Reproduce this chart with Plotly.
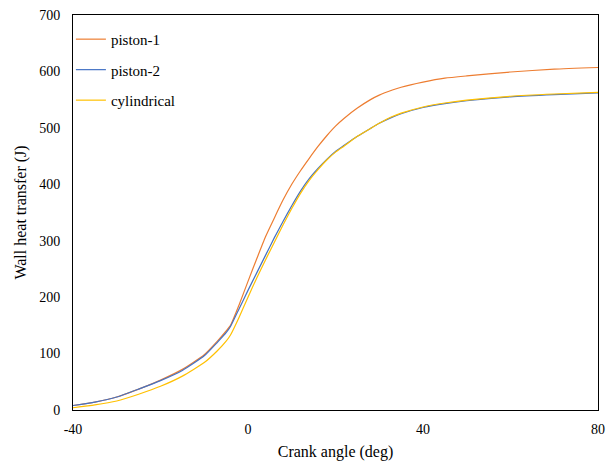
import plotly.graph_objects as go

crank_angle = [-40, -35, -30, -25, -20, -15, -10, -7, -5, -4, -2, 0, 2, 4, 6, 8, 10, 12, 14, 16, 18, 20, 22, 25, 28, 30, 33, 35, 40, 45, 50, 60, 70, 80]

piston_1 = [8, 14, 23, 37, 53, 72, 98, 122, 140, 150, 187, 228, 268, 307, 340, 372, 400, 424, 446, 467, 486, 503, 517, 535, 550, 558, 567, 572, 581, 588, 592, 599, 604, 607]
piston_2 = [8, 14, 23, 37, 52, 70, 96, 120, 137, 148, 180, 212, 243, 274, 305, 334, 362, 388, 410, 428, 444, 458, 469, 485, 499, 508, 519, 525, 536, 543, 548, 555, 559, 562]
cylindrical = [4, 9, 16, 28, 42, 60, 84, 105, 122, 133, 165, 200, 234, 266, 297, 328, 357, 384, 407, 426, 443, 457, 468, 485, 499, 508, 520, 526, 537, 544, 549, 556, 560, 563]

series_names = ["piston-1", "piston-2", "cylindrical"]
series_values = [piston_1, piston_2, cylindrical]
series_colors = ["#ED7D31", "#4472C4", "#FFC000"]

x_ticks = [-40, 0, 40, 80]
y_ticks = [0, 100, 200, 300, 400, 500, 600, 700]

font_family = "Liberation Serif"

fig = go.Figure()
for name, vals, col in zip(series_names, series_values, series_colors):
    fig.add_trace(go.Scatter(
        x=crank_angle, y=vals, mode="lines", name=name, legendgroup=name,
        line=dict(color=col, width=1.2, shape="spline", smoothing=0.5),
    ))

fig.update_layout(
    width=609, height=461,
    margin=dict(l=73, r=11, t=15, b=51, autoexpand=False),
    paper_bgcolor="white", plot_bgcolor="white",
    font=dict(family=font_family, size=14, color="black"),
    legend=dict(
        x=-0.004, y=0.98, xanchor="left", yanchor="top",
        bgcolor="rgba(0,0,0,0)", borderwidth=0,
        font=dict(family=font_family, size=15, color="black"),
        tracegroupgap=8, itemwidth=30,
    ),
    xaxis=dict(
        range=[-40, 80], tickvals=x_ticks, ticktext=[str(v) for v in x_ticks],
        showgrid=False, zeroline=False, showline=True, linecolor="black", linewidth=1,
        mirror=True, ticks="", ticklabelstandoff=6, automargin=False,
        title=dict(text="Crank angle (deg)", font=dict(family=font_family, size=16), standoff=12),
    ),
    yaxis=dict(
        range=[0, 700], tickvals=y_ticks, ticktext=[str(v) for v in y_ticks],
        showgrid=False, zeroline=False, showline=True, linecolor="black", linewidth=1,
        mirror=True, ticks="", ticklabelstandoff=9, automargin=False,
        title=dict(text="Wall heat transfer (J)", font=dict(family=font_family, size=16), standoff=8),
    ),
)

fig.write_html("out.html")
